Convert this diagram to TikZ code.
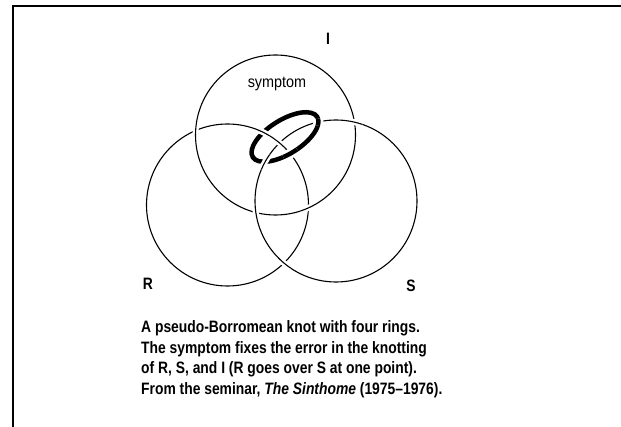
\documentclass[tikz,border=0pt]{standalone}
\usepackage{fontspec}
\setmainfont{Liberation Sans}
\newfontfamily\capfont[FakeStretch=0.84]{Liberation Sans}
\newfontfamily\symfont[FakeStretch=0.9]{Liberation Sans}
\begin{document}
\begin{tikzpicture}[x=1pt,y=1pt,
  thin ring/.style={line width=1.1pt, black},
  thin over/.style={thin ring, preaction={draw, white, line width=6pt}},
  symp ring/.style={line width=4.5pt, black},
  symp over/.style={symp ring, preaction={draw, white, line width=10pt}},
  lbl/.style={font=\capfont\bfseries\fontsize{16.5}{19}\selectfont, inner sep=0pt, anchor=base},
  capline/.style={font=\capfont\bfseries\fontsize{16.5}{19}\selectfont, inner sep=0pt, anchor=base west},
]
\useasboundingbox (0,0) rectangle (621,426);
\fill[white] (0,0) rectangle (621,426);
% frame
\draw[line width=2pt] (12.5,-5) -- (12.5,420) -- (630,420);

% centres
\coordinate (CI) at (275.5,291);
\coordinate (CR) at (227.5,221);
\coordinate (CS) at (336,225);
\coordinate (CE) at (285,289);

% base rings
\draw[thin ring] (CI) circle[radius=80];
\draw[thin ring] (CR) circle[radius=81];
\draw[thin ring] (CS) circle[radius=81];
\begin{scope}[shift={(CE)}, rotate=32]
  \draw[symp ring] (0,0) ellipse[x radius=38, y radius=17];
\end{scope}

% I over R
\begin{scope}[shift={(CI)}]
  \draw[thin over] (170.8:80) arc[start angle=170.8, end angle=182.8, radius=80];
  \draw[thin over] (288.3:80) arc[start angle=288.3, end angle=300.3, radius=80];
\end{scope}
% S over I, S over R, S over symptom
\begin{scope}[shift={(CS)}]
  \draw[thin over] (70.9:81) arc[start angle=70.9, end angle=82.9, radius=81];
  \draw[thin over] (182.2:81) arc[start angle=182.2, end angle=194.2, radius=81];
  \draw[thin over] (224.1:81) arc[start angle=224.1, end angle=236.1, radius=81];
  \draw[thin over] (145:81) arc[start angle=145, end angle=157, radius=81];
\end{scope}
% R over S (the error), R over symptom
\begin{scope}[shift={(CR)}]
  \draw[thin over] (45.6:81) arc[start angle=45.6, end angle=54.6, radius=81];
  \draw[thin over] (58.4:81) arc[start angle=58.4, end angle=69.4, radius=81];
\end{scope}
% symptom over R and over S
\begin{scope}[shift={(CE)}, rotate=32]
  \draw[symp over] (251.5:38 and 17) arc[start angle=251.5, end angle=275.5, x radius=38, y radius=17];
  \draw[symp over] (333:38 and 17) arc[start angle=333, end angle=353, x radius=38, y radius=17];
\end{scope}

% labels
\node[lbl] (lI) at (328,381) {I};
\node[lbl] (lR) at (148,136) {R};
\node[lbl] (lS) at (411,135) {S};
\node[font=\symfont\fontsize{16}{19}\selectfont, inner sep=0pt, anchor=base] (symp) at (277,338) {symptom};

% caption
\node[capline] (c1) at (141,93.5) {A pseudo-Borromean knot with four rings.};
\node[capline] (c2) at (141,72.8) {The symptom fixes the error in the knotting};
\node[capline] (c3) at (141,52.1) {of R, S, and I (R goes over S at one point).};
\node[capline] (c4) at (141,31.4) {From the seminar, \textit{The Sinthome} (1975–1976).};
\end{tikzpicture}
\end{document}
